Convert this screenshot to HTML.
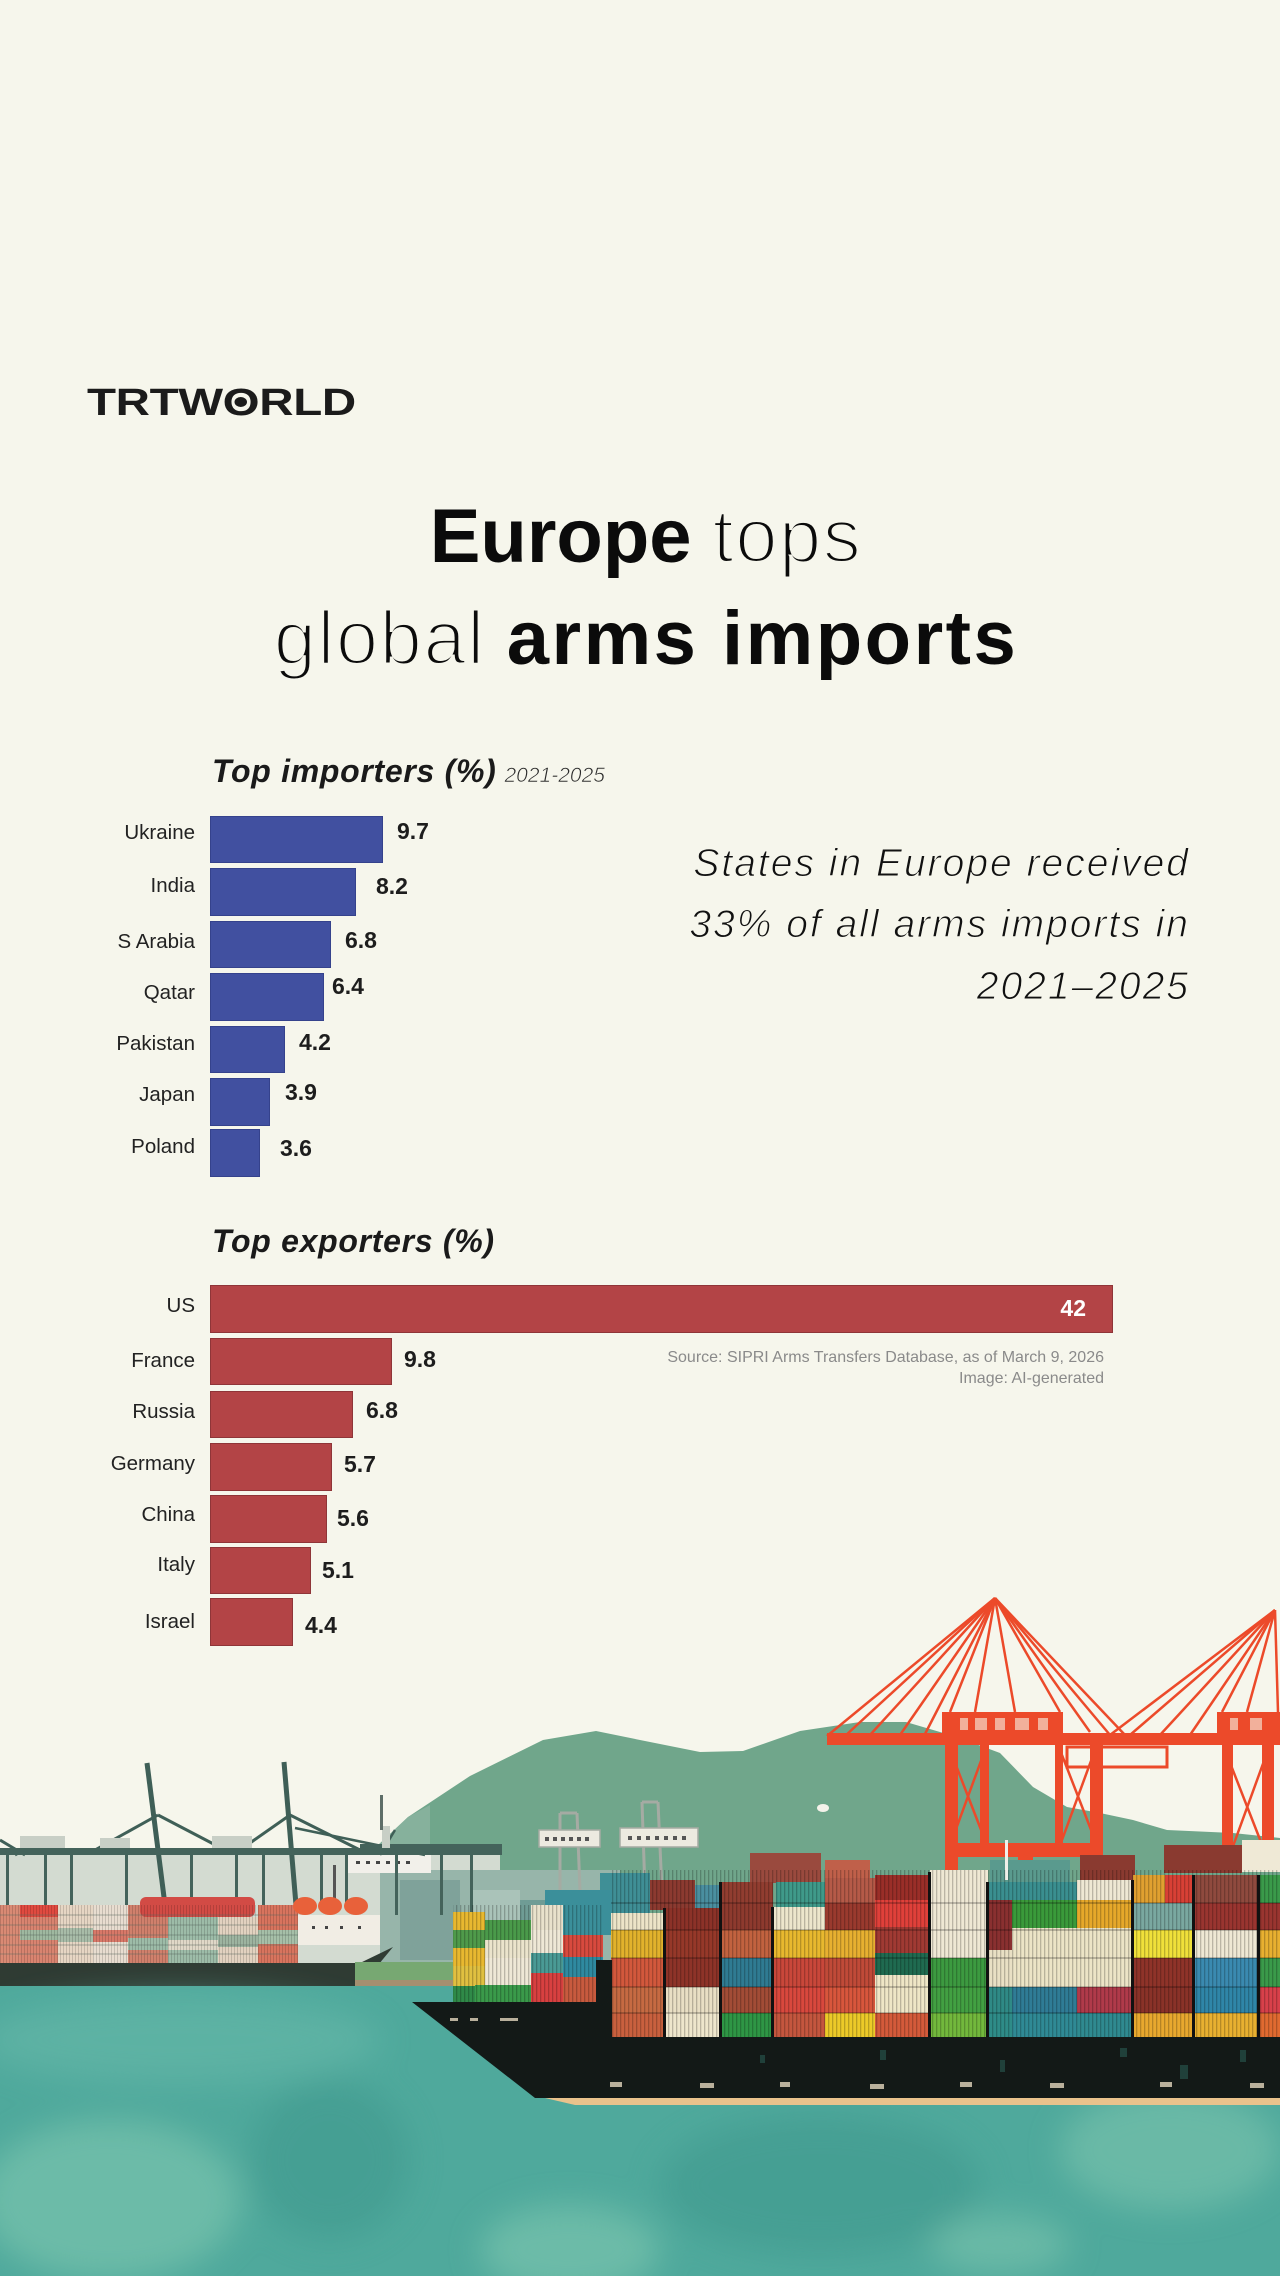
<!DOCTYPE html>
<html>
<head>
<meta charset="utf-8">
<style>
  html,body{margin:0;padding:0;}
  body{width:1280px;height:2276px;position:relative;overflow:hidden;background:#f6f6ec;font-family:"Liberation Sans",Arial,sans-serif;color:#111;}
  .abs{position:absolute;line-height:1;white-space:nowrap;}
  .logo{left:87px;top:384px;font-weight:bold;font-size:38px;transform:scaleX(1.25);transform-origin:0 0;letter-spacing:-0.3px;color:#1b1b1b;}
  .logo .o{position:relative;display:inline-block;}
  .logo .o::after{content:"";position:absolute;left:50%;top:18px;width:10px;height:10px;margin:-5px 0 0 -5px;border-radius:50%;background:#1b1b1b;}
  .t{position:absolute;left:0;width:1292px;text-align:center;font-size:76px;line-height:1;color:#0b0b0b;white-space:nowrap;}
  .t b{font-weight:bold;}
  .lt{font-weight:normal;-webkit-text-stroke:3px #f6f6ec;letter-spacing:1.5px;}
  .head{left:212px;font-weight:bold;font-style:italic;font-size:32px;letter-spacing:0.7px;color:#1a1a1a;}
  .yr{font-weight:normal;font-size:21px;letter-spacing:0;margin-left:8px;color:#2a2a2a;-webkit-text-stroke:0.6px #f6f6ec;}
  .note{right:90px;text-align:right;font-style:italic;font-size:39px;letter-spacing:2px;color:#111;-webkit-text-stroke:1px #f6f6ec;}
  .lab{right:1085px;text-align:right;font-size:20.5px;color:#222;}
  .val{font-weight:bold;font-size:23px;color:#1d1d1d;}
  .bar{position:absolute;left:210px;box-sizing:border-box;}
  .bb{background:#4150a0;border:1.5px solid #35428c;}
  .rb{background:#b34446;border:1.5px solid #8f3538;}
  .src{right:176px;text-align:right;font-size:16px;color:#8a8a8a;}
</style>
</head>
<body>

<svg style="position:absolute;left:0;top:1560px" width="1280" height="716" viewBox="0 1560 1280 716" xmlns="http://www.w3.org/2000/svg">
  <defs>
    <pattern id="rib" width="4" height="10" patternUnits="userSpaceOnUse"><rect width="1.3" height="10" fill="#000" opacity=".22"/></pattern>
    <pattern id="rib2" width="3" height="10" patternUnits="userSpaceOnUse"><rect width="1" height="10" fill="#000" opacity=".15"/></pattern>
    <filter id="bl" x="-50%" y="-50%" width="200%" height="200%"><feGaussianBlur stdDeviation="16"/></filter>
  </defs>

  <!-- mountain -->
  <path d="M230 1892 L300 1874 L360 1862 L408 1817 L470 1776 L543 1740 L596 1731 L650 1742 L700 1752 L743 1751 L800 1731 L860 1722 L906 1722 L957 1737 L1000 1753 L1033 1787 L1067 1807 L1100 1813 L1133 1820 L1167 1830 L1233 1833 L1280 1838 L1280 1995 L230 1995 Z" fill="#70a68b"/>
  <path d="M230 1892 L300 1874 L360 1862 L408 1817 L430 1805 L430 1995 L230 1995 Z" fill="#86b19c"/>
  <ellipse cx="823" cy="1808" rx="6" ry="4" fill="#f4f2ea"/>

  <!-- left port background structures -->
  <rect x="0" y="1855" width="500" height="110" fill="#d3dbd1"/>
  <rect x="380" y="1870" width="240" height="120" fill="#97b5aa"/>
  <rect x="400" y="1880" width="60" height="80" fill="#7fa29a"/>
  <rect x="470" y="1890" width="50" height="70" fill="#aac3b9"/>
  <rect x="520" y="1900" width="40" height="60" fill="#6f9c95"/>
  <rect x="347" y="1853" width="84" height="20" fill="#f2f0ea"/>
  <g fill="#444">
    <rect x="356" y="1861" width="4" height="3"/><rect x="366" y="1861" width="4" height="3"/><rect x="376" y="1861" width="4" height="3"/><rect x="386" y="1861" width="4" height="3"/><rect x="396" y="1861" width="4" height="3"/><rect x="406" y="1861" width="4" height="3"/>
  </g>
  <g stroke="#3f5f57" fill="none">
    <line x1="147" y1="1763" x2="165" y2="1905" stroke-width="5"/>
    <line x1="284" y1="1762" x2="296" y2="1905" stroke-width="5"/>
    <line x1="158" y1="1815" x2="95" y2="1850" stroke-width="3"/>
    <line x1="158" y1="1815" x2="225" y2="1850" stroke-width="3"/>
    <line x1="290" y1="1815" x2="240" y2="1850" stroke-width="3"/>
    <line x1="290" y1="1815" x2="360" y2="1850" stroke-width="3"/>
    <line x1="295" y1="1828" x2="425" y2="1855" stroke-width="2.5"/>
    <line x1="0" y1="1840" x2="25" y2="1855" stroke-width="3"/>
    <line x1="40" y1="1840" x2="15" y2="1855" stroke-width="3"/>
    <line x1="395" y1="1830" x2="380" y2="1855" stroke-width="2.5"/>
  </g>
  <g fill="#44635b">
    <rect x="0" y="1848" width="502" height="7"/>
    <rect x="360" y="1844" width="142" height="4"/>
    <rect x="6" y="1855" width="3" height="50"/><rect x="44" y="1855" width="3" height="50"/><rect x="70" y="1855" width="3" height="50"/>
    <rect x="125" y="1855" width="3" height="50"/><rect x="190" y="1855" width="3" height="50"/><rect x="235" y="1855" width="3" height="50"/>
    <rect x="262" y="1855" width="3" height="50"/><rect x="320" y="1855" width="3" height="50"/><rect x="345" y="1855" width="3" height="50"/>
    <rect x="395" y="1855" width="3" height="60"/><rect x="440" y="1855" width="3" height="60"/><rect x="470" y="1855" width="3" height="60"/>
  </g>
  <g fill="#c8cfc6">
    <rect x="20" y="1836" width="45" height="12"/><rect x="212" y="1836" width="40" height="12"/><rect x="100" y="1838" width="30" height="10"/>
  </g>
  <rect x="382" y="1826" width="8" height="22" fill="#c8cfc6"/>
  <rect x="380" y="1795" width="3" height="35" fill="#5e6e68"/>

  <!-- middle cream cranes -->
  <g stroke="#a5aba3" stroke-width="3" fill="none">
    <line x1="560" y1="1813" x2="560" y2="1891"/><line x1="577" y1="1813" x2="580" y2="1891"/>
    <line x1="560" y1="1813" x2="577" y2="1813"/>
    <line x1="642" y1="1802" x2="645" y2="1891"/><line x1="658" y1="1802" x2="662" y2="1891"/>
    <line x1="642" y1="1802" x2="658" y2="1802"/>
  </g>
  <rect x="539" y="1830" width="61" height="17" fill="#eceae0" stroke="#a5aba3" stroke-width="1.5"/>
  <rect x="620" y="1828" width="78" height="19" fill="#eceae0" stroke="#a5aba3" stroke-width="1.5"/>
  <g fill="#555">
    <rect x="545" y="1837" width="4" height="4"/><rect x="553" y="1837" width="4" height="4"/><rect x="561" y="1837" width="4" height="4"/><rect x="569" y="1837" width="4" height="4"/><rect x="577" y="1837" width="4" height="4"/><rect x="585" y="1837" width="4" height="4"/>
    <rect x="628" y="1836" width="4" height="4"/><rect x="637" y="1836" width="4" height="4"/><rect x="646" y="1836" width="4" height="4"/><rect x="655" y="1836" width="4" height="4"/><rect x="664" y="1836" width="4" height="4"/><rect x="673" y="1836" width="4" height="4"/><rect x="682" y="1836" width="4" height="4"/>
  </g>

  <!-- red cranes -->
  <g stroke="#ec4a2a" stroke-width="2.5" fill="none">
    <line x1="995" y1="1598" x2="827" y2="1736"/>
    <line x1="995" y1="1598" x2="845" y2="1736"/>
    <line x1="995" y1="1598" x2="870" y2="1735"/>
    <line x1="995" y1="1598" x2="900" y2="1735"/>
    <line x1="995" y1="1598" x2="925" y2="1734"/>
    <line x1="995" y1="1598" x2="950" y2="1712"/>
    <line x1="995" y1="1598" x2="975" y2="1712"/>
    <line x1="995" y1="1598" x2="1015" y2="1712"/>
    <line x1="995" y1="1598" x2="1060" y2="1712"/>
    <line x1="995" y1="1598" x2="1090" y2="1732"/>
    <line x1="995" y1="1598" x2="1110" y2="1735"/>
    <line x1="995" y1="1598" x2="1125" y2="1735"/>
    <line x1="1275" y1="1610" x2="1110" y2="1735"/>
    <line x1="1275" y1="1610" x2="1130" y2="1735"/>
    <line x1="1275" y1="1610" x2="1160" y2="1735"/>
    <line x1="1275" y1="1610" x2="1190" y2="1735"/>
    <line x1="1275" y1="1610" x2="1222" y2="1712"/>
    <line x1="1275" y1="1610" x2="1247" y2="1712"/>
    <line x1="1275" y1="1610" x2="1278" y2="1712"/>
    <line x1="950" y1="1750" x2="985" y2="1840"/>
    <line x1="985" y1="1750" x2="952" y2="1840"/>
    <line x1="1060" y1="1750" x2="1095" y2="1840"/>
    <line x1="1095" y1="1750" x2="1062" y2="1840"/>
    <line x1="1225" y1="1750" x2="1268" y2="1860"/>
    <line x1="1268" y1="1750" x2="1228" y2="1860"/>
    <rect x="1067" y="1747" width="100" height="20" stroke-width="3"/>
  </g>
  <g fill="#ec4a2a">
    <rect x="827" y="1733" width="453" height="12"/>
    <rect x="942" y="1712" width="121" height="25"/>
    <rect x="1217" y="1712" width="63" height="25"/>
    <rect x="945" y="1745" width="13" height="152"/>
    <rect x="980" y="1745" width="9" height="100"/>
    <rect x="1055" y="1745" width="8" height="100"/>
    <rect x="1018" y="1843" width="15" height="55"/>
    <rect x="1090" y="1745" width="13" height="122"/>
    <rect x="945" y="1843" width="158" height="14"/>
    <rect x="1222" y="1745" width="11" height="125"/>
    <rect x="1262" y="1745" width="12" height="125"/>
  </g>
  <g fill="#f5dccb" opacity=".7">
    <rect x="960" y="1718" width="8" height="12"/><rect x="975" y="1718" width="12" height="12"/><rect x="995" y="1718" width="10" height="12"/><rect x="1015" y="1718" width="14" height="12"/><rect x="1038" y="1718" width="10" height="12"/>
    <rect x="1230" y="1718" width="8" height="12"/><rect x="1250" y="1718" width="12" height="12"/>
  </g>

  <!-- distant containers -->
  <rect x="600" y="1873" width="50" height="40" fill="#3f8f96"/>
  <rect x="650" y="1880" width="45" height="30" fill="#8c3a30"/>
  <rect x="695" y="1885" width="30" height="25" fill="#4a8fa0"/>
  <rect x="750" y="1853" width="71" height="30" fill="#9a4a3e"/>
  <rect x="776" y="1882" width="49" height="25" fill="#3f9a8a"/>
  <rect x="825" y="1860" width="45" height="20" fill="#c0604a"/>
  <rect x="990" y="1860" width="80" height="22" fill="#5a9a8e"/>
  <rect x="1080" y="1855" width="55" height="27" fill="#8a3a30"/>
  <rect x="1164" y="1845" width="78" height="28" fill="#8a3a30"/>
  <rect x="1242" y="1840" width="38" height="32" fill="#efe9d6"/>
  <rect x="1005" y="1840" width="3" height="40" fill="#f0f0ea"/>

  <!-- left ship containers -->
  <g>
    <rect x="0" y="1905" width="20" height="58" fill="#d98a74"/>
    <rect x="20" y="1905" width="38" height="12" fill="#e04a40"/>
    <rect x="20" y="1917" width="38" height="46" fill="#d98470"/>
    <rect x="20" y="1930" width="38" height="10" fill="#9fb8a0"/>
    <rect x="58" y="1905" width="35" height="58" fill="#e6d6c4"/>
    <rect x="58" y="1928" width="35" height="14" fill="#a8bca8"/>
    <rect x="93" y="1905" width="35" height="58" fill="#e8ddd0"/>
    <rect x="93" y="1930" width="35" height="12" fill="#d87868"/>
    <rect x="128" y="1905" width="40" height="58" fill="#d0806c"/>
    <rect x="128" y="1938" width="40" height="12" fill="#9dbca8"/>
    <rect x="140" y="1897" width="115" height="20" fill="#d24b45" rx="6"/>
    <rect x="168" y="1917" width="50" height="46" fill="#9dbca8"/>
    <rect x="168" y="1940" width="50" height="10" fill="#e0d8c8"/>
    <rect x="218" y="1917" width="40" height="46" fill="#e2d2c0"/>
    <rect x="218" y="1935" width="40" height="12" fill="#9db4a0"/>
    <rect x="258" y="1905" width="40" height="58" fill="#d8745e"/>
    <rect x="258" y="1930" width="40" height="14" fill="#a6bfa8"/>
    <rect x="0" y="1905" width="298" height="58" fill="url(#rib2)"/>
    <g stroke="#5a6a60" stroke-width="1" opacity=".5">
      <line x1="0" y1="1915" x2="298" y2="1915"/><line x1="0" y1="1925" x2="298" y2="1925"/><line x1="0" y1="1935" x2="298" y2="1935"/><line x1="0" y1="1945" x2="298" y2="1945"/><line x1="0" y1="1954" x2="298" y2="1954"/>
    </g>
  </g>
  <rect x="333" y="1865" width="3" height="40" fill="#555"/>
  <rect x="298" y="1915" width="82" height="30" fill="#f1ede4"/>
  <g fill="#444"><rect x="312" y="1926" width="3" height="3"/><rect x="325" y="1926" width="3" height="3"/><rect x="340" y="1926" width="3" height="3"/><rect x="358" y="1926" width="3" height="3"/></g>
  <ellipse cx="305" cy="1906" rx="12" ry="9" fill="#e8613a"/>
  <ellipse cx="330" cy="1906" rx="12" ry="9" fill="#e8613a"/>
  <ellipse cx="356" cy="1906" rx="12" ry="9" fill="#e8613a"/>
  <polygon points="0,1963 360,1963 393,1947 360,1987 0,1987" fill="#2f3b33"/>
  <rect x="355" y="1962" width="100" height="18" fill="#77a872"/>
  <rect x="355" y="1980" width="100" height="8" fill="#a58f70"/>

  <!-- sea -->
  <rect x="0" y="1986" width="1280" height="290" fill="#4fa99c"/>
  <g filter="url(#bl)" opacity=".6">
    <ellipse cx="180" cy="2040" rx="200" ry="45" fill="#66b8a9"/>
    <ellipse cx="110" cy="2200" rx="130" ry="80" fill="#80c8b0"/>
    <ellipse cx="570" cy="2250" rx="90" ry="45" fill="#80c8b0"/>
    <ellipse cx="1170" cy="2150" rx="110" ry="60" fill="#7cc4ad"/>
    <ellipse cx="1000" cy="2245" rx="70" ry="30" fill="#7cc4ad"/>
    <ellipse cx="330" cy="2160" rx="80" ry="80" fill="#3f998e"/>
    <ellipse cx="820" cy="2185" rx="160" ry="70" fill="#3f998e"/>
  </g>

  <!-- bow containers -->
  <rect x="545" y="1890" width="67" height="45" fill="#3b8f9a"/>
  <rect x="453" y="1912" width="32" height="18" fill="#e8b830"/>
  <rect x="453" y="1930" width="32" height="18" fill="#4f9a4a"/>
  <rect x="453" y="1948" width="32" height="18" fill="#e8b830"/>
  <rect x="453" y="1966" width="32" height="20" fill="#e0c040"/>
  <rect x="453" y="1986" width="32" height="16" fill="#2f8a48"/>
  <rect x="485" y="1920" width="46" height="20" fill="#4a9a4a"/>
  <rect x="485" y="1940" width="46" height="18" fill="#ebe4cc"/>
  <rect x="485" y="1958" width="46" height="27" fill="#efe8d6"/>
  <rect x="475" y="1985" width="56" height="17" fill="#3a9a4a"/>
  <rect x="531" y="1905" width="32" height="25" fill="#e9e2cc"/>
  <rect x="531" y="1930" width="32" height="23" fill="#efe8d6"/>
  <rect x="531" y="1953" width="32" height="20" fill="#4a9a95"/>
  <rect x="531" y="1973" width="32" height="29" fill="#d84040"/>
  <rect x="563" y="1935" width="40" height="22" fill="#d84a3e"/>
  <rect x="563" y="1957" width="40" height="20" fill="#2f8aa0"/>
  <rect x="563" y="1977" width="33" height="25" fill="#c85a3e"/>
  <rect x="453" y="1905" width="150" height="97" fill="url(#rib)"/>

  <!-- front container grid -->
  <g>
    <rect x="611" y="2013" width="54" height="24" fill="#c9603e"/>
    <rect x="611" y="1987" width="54" height="26" fill="#c66a42"/>
    <rect x="611" y="1958" width="54" height="29" fill="#d2583c"/>
    <rect x="611" y="1930" width="54" height="28" fill="#e2b22c"/>
    <rect x="611" y="1913" width="54" height="17" fill="#ede4c8"/>
    <rect x="665" y="2013" width="56" height="24" fill="#eee6cc"/>
    <rect x="665" y="1987" width="56" height="26" fill="#e9dfc4"/>
    <rect x="665" y="1958" width="56" height="29" fill="#8e3328"/>
    <rect x="665" y="1930" width="56" height="28" fill="#963829"/>
    <rect x="665" y="1908" width="56" height="22" fill="#8c3228"/>
    <rect x="721" y="2013" width="52" height="24" fill="#2e9645"/>
    <rect x="721" y="1987" width="52" height="26" fill="#a24c36"/>
    <rect x="721" y="1958" width="52" height="29" fill="#2f7b92"/>
    <rect x="721" y="1930" width="52" height="28" fill="#c2623f"/>
    <rect x="721" y="1903" width="52" height="27" fill="#8e3a2e"/>
    <rect x="721" y="1882" width="52" height="21" fill="#913d30"/>
    <rect x="773" y="2013" width="52" height="24" fill="#c4563e"/>
    <rect x="773" y="1987" width="52" height="26" fill="#d9483d"/>
    <rect x="773" y="1958" width="52" height="29" fill="#c9473a"/>
    <rect x="773" y="1930" width="52" height="28" fill="#e8b82e"/>
    <rect x="773" y="1907" width="52" height="23" fill="#ede6cc"/>
    <rect x="825" y="2013" width="50" height="24" fill="#ecca28"/>
    <rect x="825" y="1987" width="50" height="26" fill="#d8563c"/>
    <rect x="825" y="1958" width="50" height="29" fill="#c04a38"/>
    <rect x="825" y="1930" width="50" height="28" fill="#e7b030"/>
    <rect x="825" y="1903" width="50" height="27" fill="#9a3a2e"/>
    <rect x="825" y="1878" width="50" height="25" fill="#b55a48"/>
    <rect x="875" y="2013" width="55" height="24" fill="#d45a3a"/>
    <rect x="875" y="1975" width="55" height="38" fill="#efe6c6"/>
    <rect x="875" y="1953" width="55" height="22" fill="#1f6a50"/>
    <rect x="875" y="1927" width="55" height="26" fill="#a03a33"/>
    <rect x="875" y="1900" width="55" height="27" fill="#e0403a"/>
    <rect x="875" y="1875" width="55" height="25" fill="#9a2e28"/>
    <rect x="930" y="2013" width="58" height="24" fill="#72b83c"/>
    <rect x="930" y="1987" width="58" height="26" fill="#42a042"/>
    <rect x="930" y="1958" width="58" height="29" fill="#3c9a40"/>
    <rect x="930" y="1870" width="58" height="88" fill="#efe8d4"/>
    <rect x="988" y="2013" width="24" height="24" fill="#2e8c88"/>
    <rect x="988" y="1987" width="24" height="26" fill="#2f8a86"/>
    <rect x="988" y="1950" width="24" height="37" fill="#e9e0c4"/>
    <rect x="988" y="1900" width="24" height="50" fill="#8a3030"/>
    <rect x="988" y="1882" width="24" height="18" fill="#3a8f90"/>
    <rect x="1012" y="2013" width="65" height="24" fill="#2f8a95"/>
    <rect x="1077" y="2013" width="56" height="24" fill="#2f8a90"/>
    <rect x="1012" y="1987" width="65" height="26" fill="#2f7c96"/>
    <rect x="1077" y="1987" width="56" height="26" fill="#b03a4a"/>
    <rect x="1012" y="1928" width="121" height="59" fill="#ece4c6"/>
    <rect x="1012" y="1900" width="65" height="28" fill="#3a9a3a"/>
    <rect x="1077" y="1900" width="56" height="28" fill="#e6a82a"/>
    <rect x="1012" y="1882" width="65" height="18" fill="#3a8f90"/>
    <rect x="1077" y="1880" width="56" height="20" fill="#efe8d4"/>
    <rect x="1133" y="2013" width="61" height="24" fill="#e8a82e"/>
    <rect x="1133" y="1987" width="61" height="26" fill="#8a3228"/>
    <rect x="1133" y="1958" width="61" height="29" fill="#8f3329"/>
    <rect x="1133" y="1930" width="61" height="28" fill="#f0e03a"/>
    <rect x="1133" y="1903" width="61" height="27" fill="#7aa8a0"/>
    <rect x="1133" y="1875" width="32" height="28" fill="#e0a030"/>
    <rect x="1165" y="1875" width="29" height="28" fill="#d84035"/>
    <rect x="1194" y="2013" width="65" height="24" fill="#e8b030"/>
    <rect x="1194" y="1987" width="65" height="26" fill="#2f86a8"/>
    <rect x="1194" y="1958" width="65" height="29" fill="#3a8ab0"/>
    <rect x="1194" y="1930" width="65" height="28" fill="#efe8d4"/>
    <rect x="1194" y="1903" width="65" height="27" fill="#9a3530"/>
    <rect x="1194" y="1875" width="65" height="28" fill="#8f4a3e"/>
    <rect x="1259" y="2013" width="21" height="24" fill="#e06a30"/>
    <rect x="1259" y="1987" width="21" height="26" fill="#d8404a"/>
    <rect x="1259" y="1958" width="21" height="29" fill="#3a9a4a"/>
    <rect x="1259" y="1930" width="21" height="28" fill="#e8b030"/>
    <rect x="1259" y="1903" width="21" height="27" fill="#9a3530"/>
    <rect x="1259" y="1875" width="21" height="28" fill="#3a9a4a"/>
    <rect x="611" y="1870" width="669" height="167" fill="url(#rib)"/>
    <g stroke="#000" stroke-width="1.5" opacity=".28">
      <line x1="611" y1="2013" x2="1280" y2="2013"/>
      <line x1="611" y1="1987" x2="1280" y2="1987"/>
      <line x1="611" y1="1958" x2="1280" y2="1958"/>
      <line x1="611" y1="1930" x2="1280" y2="1930"/>
      <line x1="611" y1="1903" x2="1280" y2="1903"/>
    </g>
    <g fill="#111">
      <rect x="663" y="1908" width="3" height="129"/>
      <rect x="719" y="1882" width="3" height="155"/>
      <rect x="771" y="1907" width="3" height="130"/>
      <rect x="928" y="1872" width="3" height="165"/>
      <rect x="986" y="1882" width="3" height="155"/>
      <rect x="1131" y="1880" width="3" height="157"/>
      <rect x="1192" y="1875" width="3" height="162"/>
      <rect x="1257" y="1875" width="3" height="162"/>
    </g>
  </g>

  <!-- main hull -->
  <polygon points="412,2002 596,2002 596,1960 612,1960 612,2037 1280,2037 1280,2098 535,2098" fill="#131917"/>
  <polygon points="545,2098 1280,2098 1280,2105 575,2105" fill="#e9c28c"/>
  <g fill="#b9b09c">
    <rect x="610" y="2082" width="12" height="5"/><rect x="700" y="2083" width="14" height="5"/><rect x="780" y="2082" width="10" height="5"/>
    <rect x="870" y="2084" width="14" height="5"/><rect x="960" y="2082" width="12" height="5"/><rect x="1050" y="2083" width="14" height="5"/>
    <rect x="1160" y="2082" width="12" height="5"/><rect x="1250" y="2083" width="14" height="5"/>
    <rect x="450" y="2018" width="8" height="3"/><rect x="470" y="2018" width="8" height="3"/><rect x="500" y="2018" width="18" height="3"/>
  </g>
  <g fill="#2a5a52" opacity=".6">
    <rect x="880" y="2050" width="6" height="10"/><rect x="1000" y="2060" width="5" height="12"/><rect x="1120" y="2048" width="7" height="9"/>
    <rect x="1180" y="2065" width="8" height="14"/><rect x="1240" y="2050" width="6" height="12"/><rect x="760" y="2055" width="5" height="8"/>
  </g>
</svg>

<div class="abs logo">TRTW<span class="o">O</span>RLD</div>

<div class="t" style="top:499px"><b>Europe</b> <span class="lt">tops</span></div>
<div class="t" style="top:601px"><span class="lt">global</span> <b style="letter-spacing:2.5px">arms imports</b></div>

<div class="abs head" style="top:755px">Top importers (%)<span class="yr">2021-2025</span></div>

<div class="abs note" style="top:844px">States in Europe received</div>
<div class="abs note" style="top:905px">33% of all arms imports in</div>
<div class="abs note" style="top:967px">2021–2025</div>

<div class="bar bb" style="top:816px;width:173px;height:47px"></div>
<div class="bar bb" style="top:868px;width:146px;height:48px"></div>
<div class="bar bb" style="top:921px;width:121px;height:47px"></div>
<div class="bar bb" style="top:973px;width:114px;height:48px"></div>
<div class="bar bb" style="top:1026px;width:75px;height:47px"></div>
<div class="bar bb" style="top:1078px;width:60px;height:48px"></div>
<div class="bar bb" style="top:1129px;width:50px;height:48px"></div>

<div class="abs lab" style="top:823px">Ukraine</div>
<div class="abs lab" style="top:876px">India</div>
<div class="abs lab" style="top:932px">S Arabia</div>
<div class="abs lab" style="top:983px">Qatar</div>
<div class="abs lab" style="top:1034px">Pakistan</div>
<div class="abs lab" style="top:1085px">Japan</div>
<div class="abs lab" style="top:1137px">Poland</div>

<div class="abs val" style="left:397px;top:820px">9.7</div>
<div class="abs val" style="left:376px;top:875px">8.2</div>
<div class="abs val" style="left:345px;top:929px">6.8</div>
<div class="abs val" style="left:332px;top:975px">6.4</div>
<div class="abs val" style="left:299px;top:1031px">4.2</div>
<div class="abs val" style="left:285px;top:1081px">3.9</div>
<div class="abs val" style="left:280px;top:1137px">3.6</div>

<div class="abs head" style="top:1225px">Top exporters (%)</div>

<div class="bar rb" style="top:1285px;width:903px;height:48px"></div>
<div class="bar rb" style="top:1338px;width:182px;height:47px"></div>
<div class="bar rb" style="top:1391px;width:143px;height:47px"></div>
<div class="bar rb" style="top:1443px;width:122px;height:48px"></div>
<div class="bar rb" style="top:1495px;width:117px;height:48px"></div>
<div class="bar rb" style="top:1547px;width:101px;height:47px"></div>
<div class="bar rb" style="top:1598px;width:83px;height:48px"></div>

<div class="abs lab" style="top:1296px">US</div>
<div class="abs lab" style="top:1351px">France</div>
<div class="abs lab" style="top:1402px">Russia</div>
<div class="abs lab" style="top:1454px">Germany</div>
<div class="abs lab" style="top:1505px">China</div>
<div class="abs lab" style="top:1555px">Italy</div>
<div class="abs lab" style="top:1612px">Israel</div>

<div class="abs val" style="right:194px;top:1297px;color:#fff">42</div>
<div class="abs val" style="left:404px;top:1348px">9.8</div>
<div class="abs val" style="left:366px;top:1399px">6.8</div>
<div class="abs val" style="left:344px;top:1453px">5.7</div>
<div class="abs val" style="left:337px;top:1507px">5.6</div>
<div class="abs val" style="left:322px;top:1559px">5.1</div>
<div class="abs val" style="left:305px;top:1614px">4.4</div>

<div class="abs src" style="top:1350px">Source: SIPRI Arms Transfers Database, as of March 9, 2026</div>
<div class="abs src" style="top:1371px">Image: AI-generated</div>

</body>
</html>
